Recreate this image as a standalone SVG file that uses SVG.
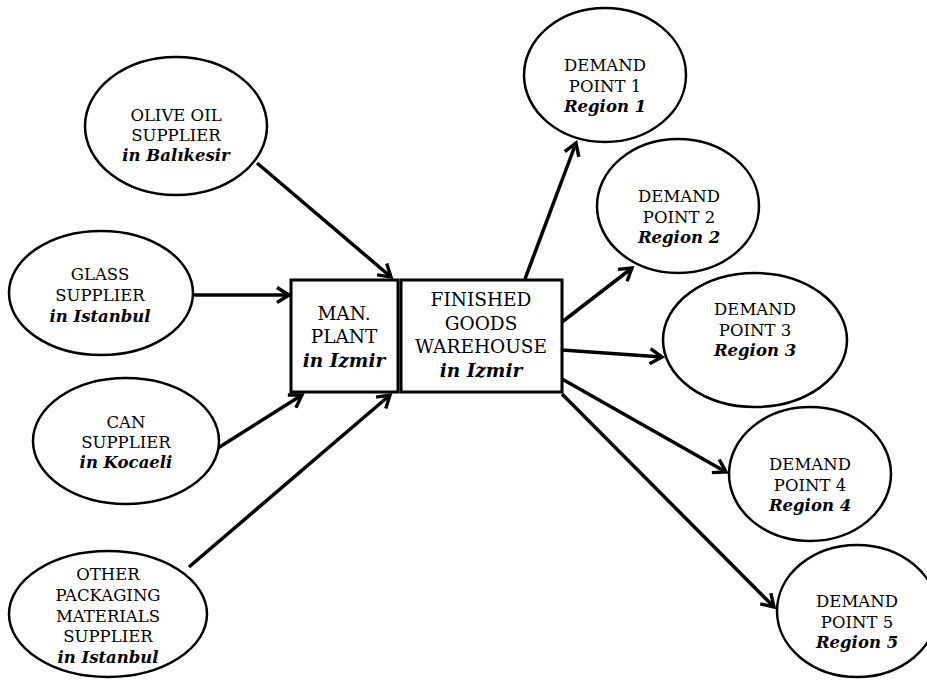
<svg xmlns="http://www.w3.org/2000/svg" width="927" height="680" viewBox="0 0 927 680">
<defs>
<style>
.n{fill:#fff;stroke:#000;stroke-width:2.5}
.b{fill:#fff;stroke:#000;stroke-width:3}
.t{font-family:"DejaVu Serif","Liberation Serif",serif;font-size:16.5px;fill:#000;text-anchor:middle}
.bt{font-family:"DejaVu Serif","Liberation Serif",serif;font-size:18.5px;fill:#000;text-anchor:middle}
.i{font-weight:bold;font-style:italic}
.c{stroke:#000;stroke-width:3.5;fill:none;marker-end:url(#ah)}
</style>
<marker id="ah" markerUnits="userSpaceOnUse" viewBox="0 0 18 18" refX="15" refY="9" markerWidth="18" markerHeight="18" orient="auto">
<path d="M3,1.5 L15,9 L3,16.5" fill="none" stroke="#000" stroke-width="3.4" stroke-linejoin="miter"/>
</marker>
</defs>
<rect width="927" height="680" fill="#fff"/>
<g id="connectors">
<line class="c" x1="257" y1="163" x2="391" y2="277"/>
<line class="c" x1="193" y1="295" x2="289" y2="295"/>
<line class="c" x1="218" y1="448" x2="302" y2="395"/>
<line class="c" x1="189" y1="567" x2="390" y2="395"/>
<line class="c" x1="525" y1="279" x2="576" y2="143"/>
<line class="c" x1="562" y1="322" x2="632" y2="268"/>
<line class="c" x1="562" y1="350" x2="662" y2="357"/>
<line class="c" x1="562" y1="379" x2="726" y2="472"/>
<line class="c" x1="562" y1="394" x2="774" y2="607"/>
</g>
<g id="olive">
<ellipse class="n" cx="176" cy="126" rx="91" ry="69"/>
<text class="t" x="176" y="121">OLIVE OIL</text>
<text class="t" x="176" y="141">SUPPLIER</text>
<text class="t i" x="176" y="161">in Balıkesir</text>
</g>
<g id="glass">
<ellipse class="n" cx="101" cy="293" rx="92" ry="62"/>
<text class="t" x="100" y="280">GLASS</text>
<text class="t" x="100" y="301">SUPPLIER</text>
<text class="t i" x="100" y="322">in Istanbul</text>
</g>
<g id="can">
<ellipse class="n" cx="126" cy="441" rx="93" ry="63"/>
<text class="t" x="126" y="428">CAN</text>
<text class="t" x="126" y="448">SUPPLIER</text>
<text class="t i" x="126" y="468">in Kocaeli</text>
</g>
<g id="other">
<ellipse class="n" cx="108" cy="614" rx="99" ry="63"/>
<text class="t" x="108" y="580">OTHER</text>
<text class="t" x="108" y="601">PACKAGING</text>
<text class="t" x="108" y="622">MATERIALS</text>
<text class="t" x="108" y="642">SUPPLIER</text>
<text class="t i" x="108" y="663">in Istanbul</text>
</g>
<g id="plant">
<rect class="b" x="291" y="280" width="107" height="112"/>
<text class="bt" x="344" y="320">MAN.</text>
<text class="bt" x="344" y="343">PLANT</text>
<text class="bt i" x="344" y="367">in Izmir</text>
</g>
<g id="warehouse">
<rect class="b" x="401" y="280" width="161" height="112"/>
<text class="bt" x="481" y="306">FINISHED</text>
<text class="bt" x="481" y="330">GOODS</text>
<text class="bt" x="481" y="353">WAREHOUSE</text>
<text class="bt i" x="481" y="377">in Izmir</text>
</g>
<g id="d1">
<ellipse class="n" cx="605" cy="75" rx="81" ry="67"/>
<text class="t" x="605" y="71">DEMAND</text>
<text class="t" x="605" y="92">POINT 1</text>
<text class="t i" x="605" y="112">Region 1</text>
</g>
<g id="d2">
<ellipse class="n" cx="678" cy="206" rx="81" ry="67"/>
<text class="t" x="679" y="202">DEMAND</text>
<text class="t" x="679" y="223">POINT 2</text>
<text class="t i" x="679" y="243">Region 2</text>
</g>
<g id="d3">
<ellipse class="n" cx="755" cy="340" rx="92" ry="67"/>
<text class="t" x="755" y="315">DEMAND</text>
<text class="t" x="755" y="336">POINT 3</text>
<text class="t i" x="755" y="356">Region 3</text>
</g>
<g id="d4">
<ellipse class="n" cx="810" cy="474" rx="81" ry="67"/>
<text class="t" x="810" y="470">DEMAND</text>
<text class="t" x="810" y="491">POINT 4</text>
<text class="t i" x="810" y="511">Region 4</text>
</g>
<g id="d5">
<ellipse class="n" cx="857" cy="611" rx="80" ry="66"/>
<text class="t" x="857" y="607">DEMAND</text>
<text class="t" x="857" y="628">POINT 5</text>
<text class="t i" x="857" y="648">Region 5</text>
</g>
</svg>
